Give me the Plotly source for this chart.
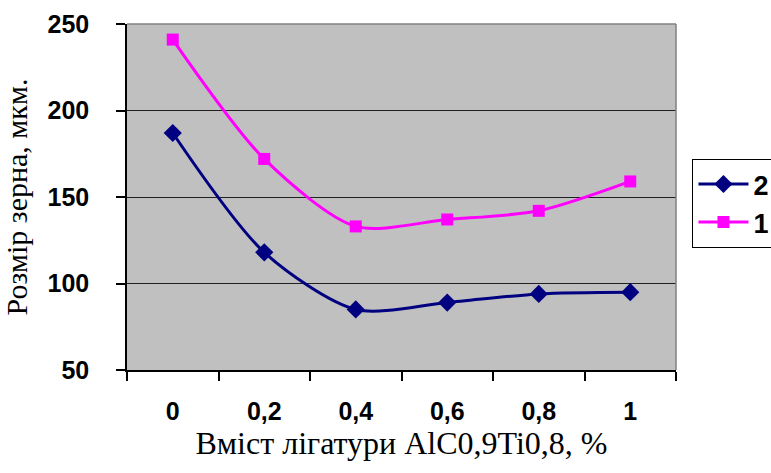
import plotly.graph_objects as go

# Вміст лігатури (категорії осі X)
categories = ["0", "0,2", "0,4", "0,6", "0,8", "1"]
# Розмір зерна, мкм
series_2 = [187, 118, 85, 89, 94, 95]
series_1 = [241, 172, 133, 137, 142, 159]
y_ticks = [50, 100, 150, 200, 250]

fig = go.Figure()
fig.add_trace(go.Scatter(
    x=categories, y=series_2, name="2", mode="lines+markers",
    line=dict(color="#000080", width=3, shape="spline", smoothing=0.8),
    marker=dict(symbol="diamond", size=14, color="#000080"),
))
fig.add_trace(go.Scatter(
    x=categories, y=series_1, name="1", mode="lines+markers",
    line=dict(color="#FF00FF", width=3, shape="spline", smoothing=0.8),
    marker=dict(symbol="square", size=12, color="#FF00FF"),
))

tick_font = dict(family="Liberation Sans", size=25, color="black", weight="bold")
title_font = dict(family="Times New Roman, Liberation Serif, serif",
                  size=30, color="black", weight="normal")
x_title_font = dict(title_font, size=32)

fig.update_layout(
    width=771, height=473,
    margin=dict(l=127, r=95, t=24, b=103, autoexpand=False),
    paper_bgcolor="white",
    plot_bgcolor="#C0C0C0",
    showlegend=True,
    legend=dict(
        x=1.03, y=0.61, xanchor="left", yanchor="top",
        bgcolor="white", bordercolor="black", borderwidth=1,
        font=dict(family="Liberation Sans", size=27, color="black", weight="bold"),
        itemwidth=50, tracegroupgap=0,
    ),
    xaxis=dict(
        type="category", range=[-0.5, 5.5], tickson="boundaries",
        ticks="outside", ticklen=9, tickcolor="black", tickwidth=1.5,
        showline=True, linecolor="black", linewidth=1.5, mirror=False,
        showgrid=False, tickfont=tick_font, ticklabelstandoff=18,
        title=dict(text="Вміст лігатури AlC0,9Ti0,8, %", font=x_title_font, standoff=8),
    ),
    yaxis=dict(
        range=[50, 250], tickvals=y_ticks,
        ticks="outside", ticklen=9, tickcolor="black", tickwidth=1.5,
        showline=True, linecolor="black", linewidth=1.5,
        showgrid=True, gridcolor="#202020", gridwidth=1,
        tickfont=tick_font, ticklabelstandoff=22,
        title=dict(text="Розмір зерна, мкм.", font=title_font, standoff=12),
        zeroline=False,
    ),
    shapes=[
        # сірі верхня та права межі області побудови
        dict(type="line", xref="paper", yref="paper", x0=0, x1=1, y0=1, y1=1,
             line=dict(color="#808080", width=1.5)),
        dict(type="line", xref="paper", yref="paper", x0=1, x1=1, y0=0, y1=1,
             line=dict(color="#808080", width=1.5)),
    ],
)

fig.write_html("out.html")
